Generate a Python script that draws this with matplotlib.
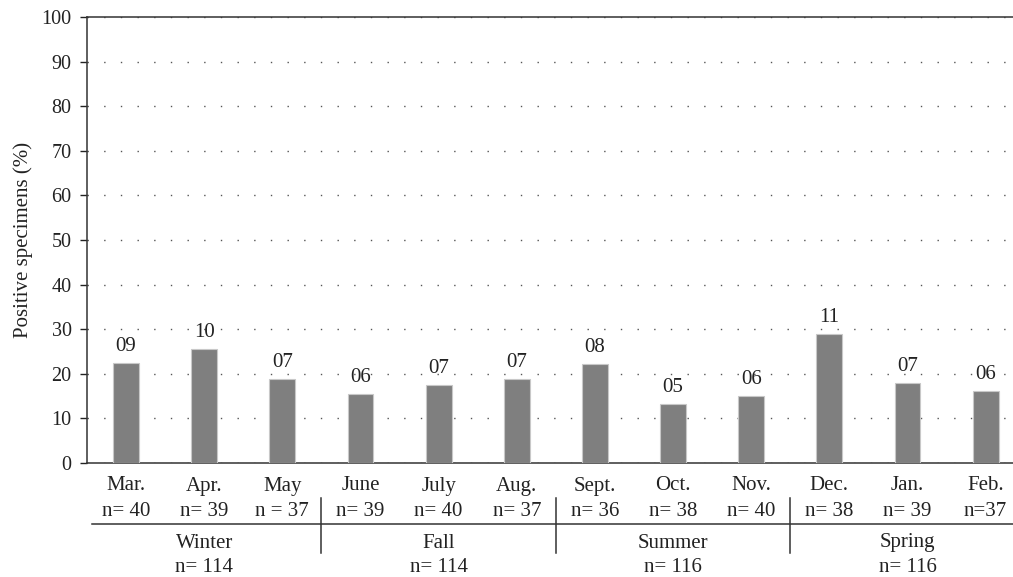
import numpy as np
import matplotlib
matplotlib.use('Agg')
import matplotlib.pyplot as plt
from matplotlib.lines import Line2D
from matplotlib.transforms import blended_transform_factory

months = ['Mar.', 'Apr.', 'May', 'June', 'July', 'Aug.',
          'Sept.', 'Oct.', 'Nov.', 'Dec.', 'Jan.', 'Feb.']
month_n = ['n= 40', 'n= 39', 'n = 37', 'n= 39', 'n= 40', 'n= 37',
           'n= 36', 'n= 38', 'n= 40', 'n= 38', 'n= 39', 'n=37']
positive_pct = [22.5, 25.6, 18.9, 15.4, 17.5, 18.9,
                22.2, 13.2, 15.0, 28.9, 17.9, 16.2]
positive_count = ['09', '10', '07', '06', '07', '07',
                  '08', '05', '06', '11', '07', '06']
seasons = ['Winter', 'Fall', 'Summer', 'Spring']
season_n = ['n= 114', 'n= 114', 'n= 116', 'n= 116']

plt.rcParams['font.family'] = ['Liberation Serif', 'DejaVu Serif']
txt = '#222222'

W, H = 1013, 577
fig = plt.figure(figsize=(W / 100, H / 100), dpi=100)
ax = fig.add_axes([87 / W, 1 - 463 / H, 1 - 87 / W, (463 - 17) / H])

x = np.arange(len(months))
ax.bar(x, positive_pct, width=0.33, color='#7f7f7f', edgecolor='#c8c8c8',
       linewidth=0.8, zorder=3)
for xi, v, lab in zip(x, positive_pct, positive_count):
    ax.annotate(lab, (xi, v), xytext=(0, 5), textcoords='offset points',
                ha='center', va='bottom', fontsize=15, color=txt)

ax.set_xlim(-0.5, 11.35)
ax.set_ylim(0, 100)
ax.set_yticks(range(0, 101, 10))
ax.set_xticks([])
ax.tick_params(axis='y', direction='out', length=5, width=1.0,
               labelsize=14.5, colors=txt, pad=6)
ax.set_ylabel('Positive specimens (%)', fontsize=15, color=txt, labelpad=6)

ax.yaxis.grid(True, linestyle=(0, (1, 11)), color='#555555', linewidth=1.0)
ax.set_axisbelow(True)
for s in ['left', 'top', 'bottom']:
    ax.spines[s].set_color('#333333')
    ax.spines[s].set_linewidth(1.1)
ax.spines['right'].set_visible(False)

# category labels below the axis
tr = blended_transform_factory(ax.transData, fig.transFigure)
def fy(py):
    return 1 - py / H

for xi, m, n in zip(x, months, month_n):
    ax.text(xi, fy(486), m, transform=tr, ha='center', va='center',
            fontsize=15, color=txt)
    ax.text(xi, fy(512), n, transform=tr, ha='center', va='center',
            fontsize=15, color=txt)

# season groups
for g, (s, n) in enumerate(zip(seasons, season_n)):
    cx = g * 3 + 1
    ax.text(cx, fy(543), s, transform=tr, ha='center', va='center',
            fontsize=15, color=txt)
    ax.text(cx, fy(568), n, transform=tr, ha='center', va='center',
            fontsize=15, color=txt)

ax.add_line(Line2D([-0.43, 11.35], [fy(524), fy(524)], transform=tr,
                   color='#333333', linewidth=1.1, clip_on=False))
for g in range(1, len(seasons)):
    xd = g * 3 - 0.5
    ax.add_line(Line2D([xd, xd], [fy(498), fy(553)], transform=tr,
                       color='#333333', linewidth=1.1, clip_on=False))

fig.savefig('out.png', dpi=100)
